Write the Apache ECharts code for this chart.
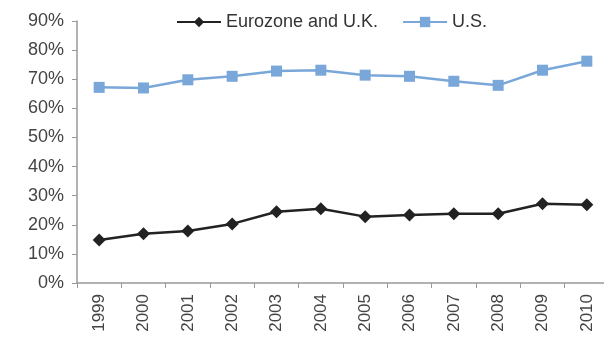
<!DOCTYPE html>
<html>
<head>
<meta charset="utf-8">
<script src="https://cdn.jsdelivr.net/npm/echarts@6/dist/echarts.min.js"></script>
<style>
  html, body { margin: 0; padding: 0; background: #fff; }
  #chart { width: 604px; height: 343px; }
</style>
</head>
<body>
<div id="chart"></div>
<script>
var years = ['1999', '2000', '2001', '2002', '2003', '2004', '2005', '2006', '2007', '2008', '2009', '2010'];
var euroUK = [14.8, 16.9, 17.9, 20.3, 24.5, 25.5, 22.8, 23.4, 23.8, 23.8, 27.2, 26.9];
var us = [67.2, 67.0, 69.8, 71.0, 72.8, 73.1, 71.4, 71.0, 69.3, 67.9, 73.1, 76.2];

var myChart = echarts.init(document.getElementById('chart'));

var option = {
    backgroundColor: '#fff',
    textStyle: { fontFamily: 'Liberation Sans' },
    legend: {
        top: 8,
        left: 171,
        itemWidth: 44,
        itemHeight: 13,
        itemGap: 24,
        textStyle: { color: '#333', fontSize: 18, fontFamily: 'Liberation Sans' },
        data: ['Eurozone and U.K.', 'U.S.']
    },
    grid: {
        left: 77,
        width: 532,
        top: 21,
        bottom: 60,
        outerBoundsMode: 'none'
    },
    xAxis: {
        type: 'category',
        data: years,
        boundaryGap: true,
        axisLine: { lineStyle: { color: '#999', width: 1.5 } },
        axisTick: { show: true, length: 5, lineStyle: { color: '#999' } },
        axisLabel: { rotate: 90, color: '#444', fontSize: 17, margin: 11 }
    },
    yAxis: {
        type: 'value',
        min: 0,
        max: 90,
        interval: 10,
        splitLine: { show: false },
        axisLine: { show: true, lineStyle: { color: '#999', width: 1.5 } },
        axisTick: { show: true, length: 5, lineStyle: { color: '#999' } },
        axisLabel: { color: '#444', fontSize: 18, margin: 13, formatter: '{value}%' }
    },
    series: [
        {
            name: 'Eurozone and U.K.',
            type: 'line',
            data: euroUK,
            symbol: 'diamond',
            symbolSize: 13,
            lineStyle: { color: '#222', width: 2.5 },
            itemStyle: { color: '#222' }
        },
        {
            name: 'U.S.',
            type: 'line',
            data: us,
            symbol: 'rect',
            symbolSize: 11,
            lineStyle: { color: '#7aa7d9', width: 2.5 },
            itemStyle: { color: '#7aa7d9' }
        }
    ]
};

myChart.setOption(option);
</script>
</body>
</html>
